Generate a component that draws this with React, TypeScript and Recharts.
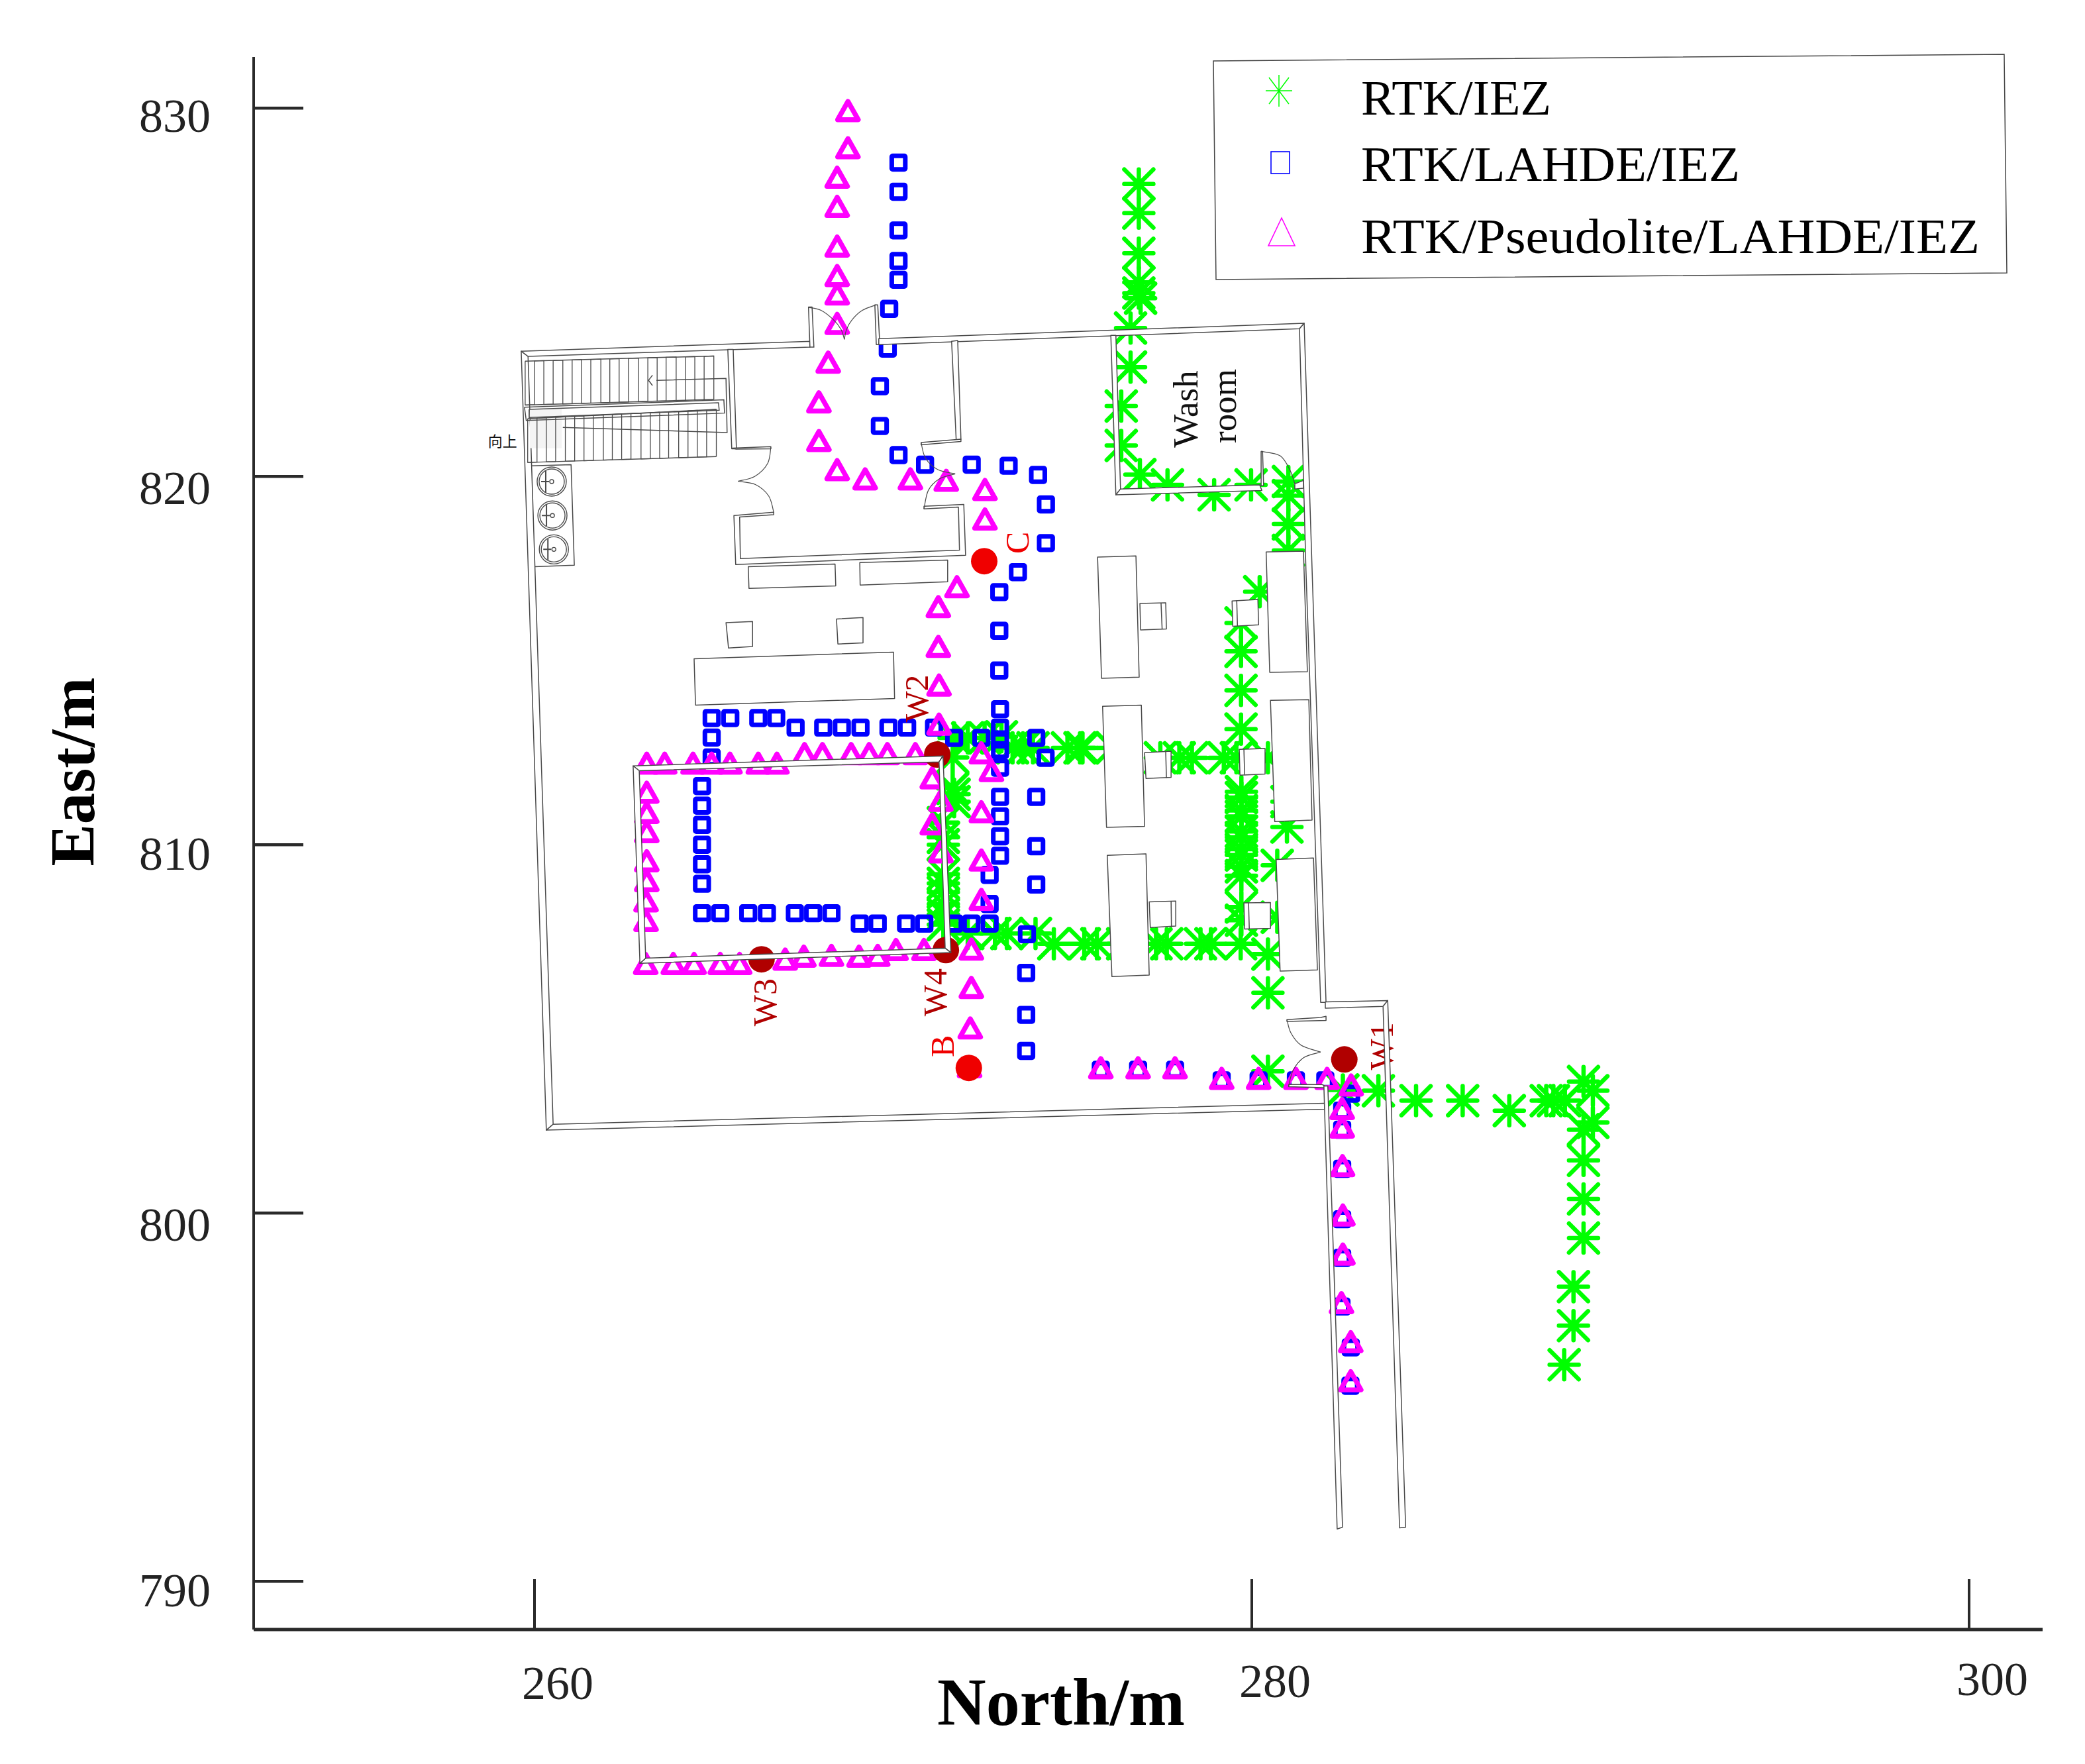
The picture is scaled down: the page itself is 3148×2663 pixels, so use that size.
import React from 'react';
import { ScatterChart, Scatter, XAxis, YAxis, Legend, Label } from 'recharts';

type P = number[];
const serif = '"Liberation Serif", "Times New Roman", serif';
const GREEN = '#00ff00', BLUE = '#0000ff', MAGENTA = '#ff00ff', WALL = '#4a4a4a';

const xTicks = [260, 280, 300];
const yTicks = [790, 800, 810, 820, 830];
const yLabelDrop: Record<number, number> = { 790: 38, 800: 42, 810: 38, 820: 42, 830: 36 };
const seriesNames = ['RTK/IEZ', 'RTK/LAHDE/IEZ', 'RTK/Pseudolite/LAHDE/IEZ'];

const rtkIez: P[] = [
  [276.85,827.94],[276.85,827.15],[276.85,826.06],[276.85,825.27],[276.85,824.98],[276.9,824.84],[276.62,824.03],[276.62,822.97],
  [276.36,821.91],[276.36,820.84],[276.88,820.05],[277.65,819.77],[278.95,819.5],[279.98,819.77],[281.02,819.86],[281.02,819.48],
  [281.02,818.71],[281.02,817.99],[280.22,816.87],[279.7,816.02],[279.7,815.25],[279.7,814.19],[279.7,813.14],
  [279.71,811.44],[279.71,811.28],[279.71,810.93],[279.71,810.77],[279.71,810.36],[279.71,810.2],[279.71,809.88],[279.71,809.72],
  [279.71,809.4],[279.71,809.16],[279.71,808.31],[279.71,807.95],
  [277.45,812.36],[277.98,812.36],[278.33,812.36],[279.22,812.36],[279.57,812.36],[280.45,812.36],
  [273.33,812.63],[273.62,812.63],[273.9,812.63],[274.86,812.63],[275.21,812.63],[275.28,812.63],[276.1,812.63],
  [271.7,812.9],[272.08,812.9],[272.55,812.9],[273.02,812.93],
  [271.66,812.37],[271.66,811.53],[271.7,811.37],[271.7,811.17],
  [271.4,810.6],[271.4,810.2],[271.4,810.0],[271.4,809.2],[271.4,808.95],[271.4,808.71],[271.4,808.39],[271.4,808.11],[271.4,807.83],
  [272.08,807.59],[272.84,807.59],[273.17,807.59],[273.97,807.59],
  [274.48,807.31],[275.33,807.31],[275.68,807.31],[276.4,807.31],[277.33,807.31],[277.63,807.31],[278.57,807.31],[278.86,807.31],[279.69,807.31],
  [280.45,807.03],[280.45,805.98],[280.98,810.48],[280.71,809.44],[280.98,811.17],[280.71,808.03],
  [280.45,803.85],[282.54,803.34],[283.53,803.32],[284.58,803.05],[285.88,803.05],[287.18,802.78],[288.21,803.05],[288.41,803.05],[288.73,803.05],
  [289.25,803.57],[289.51,803.32],[289.51,802.46],[289.25,802.26],[289.25,801.43],[289.25,800.38],[289.25,799.32],[288.97,798.0],[288.97,796.94],[288.71,795.88],
];

const rtkLahde: P[] = [
  [270.15,828.52],[270.15,827.73],[270.15,826.68],[270.15,825.85],[270.15,825.34],[269.89,824.55],[269.85,823.47],[269.63,822.45],[269.63,821.37],
  [270.15,820.58],[270.89,820.32],[272.19,820.32],[273.22,820.29],[274.04,820.04],[274.26,819.24],[274.26,818.19],[273.48,817.4],[272.96,816.86],[272.96,815.81],
  [272.96,814.73],
  [264.94,813.44],[265.46,813.44],[266.24,813.44],[266.74,813.44],
  [267.28,813.18],[268.05,813.18],[268.57,813.18],[269.09,813.18],[269.87,813.18],[270.39,813.18],[271.14,813.18],
  [264.94,812.91],[264.94,812.37],
  [264.67,811.59],[264.67,811.06],[264.67,810.54],[264.67,810.0],[264.67,809.47],[264.67,808.94],
  [264.67,808.14],[265.18,808.14],[265.96,808.14],[266.48,808.14],[267.26,808.14],[267.77,808.14],[268.28,808.14],
  [269.07,807.86],[269.57,807.86],[270.36,807.86],[270.87,807.86],[271.7,807.86],[272.18,807.86],[272.69,807.86],
  [272.98,813.68],[272.98,813.18],[272.98,812.86],[272.98,812.57],[272.98,812.09],[272.98,811.3],[272.98,810.77],[272.98,810.23],[272.98,809.7],
  [271.7,812.9],[272.46,812.9],[273.99,812.9],[274.25,812.36],[273.99,811.3],[273.99,809.96],[273.99,808.92],
  [272.69,809.18],[272.69,808.39],[273.73,807.57],[273.71,806.52],[273.71,805.38],[273.71,804.4],
  [275.79,803.89],[276.83,803.89],[277.86,803.89],[279.16,803.6],[280.19,803.6],[281.23,803.6],[282.05,803.6],
  [282.77,803.24],[282.52,802.78],[282.52,802.26],[282.52,801.2],[282.52,799.83],[282.52,798.78],[282.5,797.46],[282.76,796.35],[282.75,795.31],
];

const rtkPseudolite: P[] = [
  [268.74,829.93],[268.74,828.92],[268.44,828.12],[268.44,827.33],[268.44,826.25],[268.44,825.45],[268.44,824.95],[268.44,824.15],
  [268.19,823.1],[267.93,822.02],[267.93,820.97],[268.44,820.18],[269.22,819.93],[270.48,819.93],[271.48,819.89],[272.56,819.64],[272.56,818.84],
  [271.78,817.0],[271.26,816.46],[271.26,815.38],[271.28,814.33],[271.28,813.27],
  [272.46,812.49],[272.74,812.01],[271.09,811.81],[272.46,810.89],[271.33,811.2],[271.09,810.56],[272.46,809.58],[271.33,809.8],[272.46,808.51],
  [272.18,807.16],[272.18,806.12],[272.15,805.02],[272.13,803.97],
  [263.13,812.21],[263.63,812.21],[264.42,812.21],[264.94,812.21],[265.45,812.21],[266.24,812.21],[266.76,812.21],
  [267.53,812.47],[268.03,812.47],[268.83,812.47],[269.33,812.47],[269.84,812.47],[270.62,812.47],
  [263.13,811.42],[263.13,810.87],[263.13,810.35],[263.13,809.56],[263.13,809.02],[263.11,808.47],[263.11,807.94],
  [263.1,806.77],[263.87,806.77],[264.45,806.77],[265.18,806.77],[265.72,806.77],[266.99,806.89],[267.51,806.97],[268.28,806.99],[269.05,806.97],[269.57,806.99],[270.08,807.15],[270.86,807.15],
  [275.79,803.94],[276.83,803.94],[277.86,803.94],[279.16,803.65],[280.19,803.65],[281.23,803.65],[282.1,803.65],
  [282.77,803.47],[282.52,802.83],[282.52,802.33],[282.53,801.28],[282.54,799.94],[282.54,798.88],[282.5,797.56],[282.76,796.5],[282.76,795.44],
];

const waypoints = [
  { x: 272.54, y: 817.7, color: '#f00000' },
  { x: 272.11, y: 803.94, color: '#f00000' },
  { x: 282.58, y: 804.17, color: '#b00000' },
  { x: 271.23, y: 812.45, color: '#b00000' },
  { x: 266.33, y: 806.89, color: '#b00000' },
  { x: 271.47, y: 807.14, color: '#b00000' },
];

const waypointLabels = [
  { x: 270.66, y: 813.97, text: 'W2', color: '#b00000', size: 50 },
  { x: 266.43, y: 805.72, text: 'W3', color: '#b00000', size: 50 },
  { x: 271.17, y: 805.99, text: 'W4', color: '#b00000', size: 50 },
  { x: 283.62, y: 804.53, text: 'W1', color: '#b00000', size: 50 },
  { x: 271.38, y: 804.53, text: 'B', color: '#f00000', size: 50 },
  { x: 273.46, y: 818.2, text: 'C', color: '#f00000', size: 50 },
];

const planLabels = [
  { x: 278.16, y: 821.83, text: 'Wash', color: '#111111', rotate: -90, size: 53, family: serif },
  { x: 279.22, y: 821.91, text: 'room', color: '#111111', rotate: -90, size: 53, family: serif },
  { x: 259.11, y: 821.0, text: '向上', color: '#111111', rotate: 0, size: 22, family: '"Noto Sans CJK SC"' },
];

// Floor plan, in the same North/East metres as the tracks.
const walls: P[][] = [
  [[259.63,823.4],[259.82,823.26],[260.52,802.41],[260.33,802.25]],
  [[260.33,802.25],[260.52,802.41],[282.03,802.98],[282.03,802.82]],
  [[259.63,823.4],[267.72,823.67],[267.68,823.51],[259.82,823.26]],
  [[267.64,824.6],[267.74,824.6],[267.79,823.51],[267.68,823.51]],
  [[269.49,824.66],[269.57,824.66],[269.62,823.74],[269.6,823.58],[269.53,823.58]],
  [[269.6,823.74],[281.46,824.16],[281.33,824.01],[269.6,823.58]],
  [[281.46,824.16],[282.07,805.72],[281.92,805.72],[281.6,814.95],[281.51,817.46],[281.33,824.01]],
  [[276.07,823.83],[276.21,823.83],[276.34,819.66],[276.21,819.5]],
  [[276.21,819.5],[276.34,819.66],[280.22,819.77],[280.28,819.62]],
  [[280.26,820.68],[280.3,820.68],[280.33,819.75],[280.26,819.75]],
  [[281.2,819.8],[281.44,819.89],[281.44,819.68],[281.2,819.66]],
  [[265.39,823.45],[265.54,823.45],[265.63,820.75],[265.5,820.75]],
  [[265.52,820.77],[266.59,820.81],[266.59,820.75],[265.63,820.74]],
  [[271.63,823.67],[271.8,823.69],[271.89,821.01],[271.76,820.95]],
  [[270.78,820.92],[271.89,821.01],[271.89,820.95],[270.78,820.86]],
  [[265.56,818.94],[266.67,819.03],[266.67,818.96],[265.72,818.9],[265.74,817.77],[271.85,818.0],[271.82,819.17],[270.86,819.12],[270.86,819.19],[271.97,819.24],[272.02,817.86],[265.61,817.61]],
  [[280.98,805.25],[281.92,805.31],[282.07,805.34],[282.07,805.23],[280.98,805.2]],
  [[281.03,803.49],[281.96,803.49],[282.12,803.4],[281.03,803.43]],
  [[282.05,805.73],[283.79,805.77],[283.66,805.61],[282.05,805.56]],
  [[283.79,805.77],[284.29,791.47],[284.12,791.45],[283.66,805.61]],
  [[282.01,803.45],[282.12,803.45],[282.53,791.47],[282.38,791.42]],
  [[262.75,812.14],[271.39,812.41],[271.28,812.25],[262.92,812.01]],
  [[271.39,812.41],[271.61,807.07],[271.45,807.19],[271.28,812.25]],
  [[271.61,807.07],[262.94,806.78],[263.1,806.92],[271.45,807.19]],
  [[262.94,806.78],[262.75,812.14],[262.92,812.01],[263.1,806.92]],
];

const furniture: P[][] = [
  [[275.7,817.81],[276.77,817.84],[276.86,814.55],[275.81,814.52]],
  [[275.84,813.76],[276.92,813.79],[277.01,810.5],[275.95,810.47]],
  [[275.97,809.71],[277.05,809.75],[277.14,806.46],[276.1,806.42]],
  [[280.4,817.95],[281.44,817.97],[281.55,814.7],[280.5,814.68]],
  [[280.52,813.92],[281.59,813.94],[281.68,810.67],[280.64,810.63]],
  [[280.68,809.6],[281.72,809.64],[281.83,806.6],[280.79,806.57]],
  [[276.88,816.55],[277.6,816.57],[277.62,815.86],[276.9,815.83]],
  [[279.45,816.62],[280.17,816.66],[280.19,815.97],[279.47,815.93]],
  [[277.01,812.5],[277.75,812.54],[277.75,811.83],[277.05,811.8]],
  [[279.65,812.59],[280.37,812.61],[280.37,811.92],[279.67,811.89]],
  [[277.14,808.45],[277.88,808.47],[277.88,807.79],[277.17,807.75]],
  [[279.78,808.42],[280.52,808.43],[280.52,807.73],[279.8,807.71]],
  [[264.45,815.05],[270.01,815.23],[270.04,813.97],[264.49,813.79]],
  [[265.34,816.03],[266.08,816.06],[266.08,815.38],[265.41,815.34]],
  [[268.42,816.13],[269.16,816.17],[269.16,815.48],[268.46,815.45]],
  [[265.96,817.55],[268.38,817.62],[268.4,817.03],[265.98,816.96]],
  [[269.07,817.66],[271.52,817.73],[271.52,817.14],[269.08,817.05]],
  [[259.91,820.29],[261.02,820.32],[261.11,817.59],[260.0,817.55]],
];

const patches: P[][] = [
  [[259.87,821.82],[260.76,821.85],[260.76,821.6],[259.87,821.57]],
  [[259.87,821.53],[260.76,821.53],[260.76,820.77],[259.87,820.77]],
];

const stairLines: P[][] = [
  [[259.74,823.13],[265.0,823.27]],[[259.74,821.94],[265.0,822.09]],
  [[259.81,821.57],[265.07,821.82]],[[259.81,820.38],[265.07,820.54]],
  [[259.72,821.88],[265.28,822.08],[265.3,821.72],[259.77,821.52],[259.72,821.88]],
  [[259.85,821.82],[265.13,822.0],[265.15,821.8],[259.85,821.6],[259.85,821.82]],
  [[263.4,822.61],[265.34,822.66],[265.37,821.19],[260.79,821.33]],
  [[263.29,822.75],[263.18,822.61],[263.29,822.47]],
  [[277.47,816.55],[277.5,815.85]],[[279.58,816.64],[279.6,815.94]],[[277.6,812.53],[277.62,811.81]],
  [[279.78,812.6],[279.8,811.9]],[[277.75,808.46],[277.76,807.76]],[[279.91,808.42],[279.93,807.72]],
];

const upperStepX = [259.74,260.0,260.26,260.52,260.79,261.05,261.31,261.57,261.85,262.1,262.36,262.62,262.9,263.16,263.42,263.67,263.95,264.21,264.47,264.73,265.0];
const lowerStepX = [259.81,260.07,260.33,260.59,260.86,261.12,261.38,261.64,261.92,262.17,262.43,262.69,262.97,263.23,263.49,263.74,264.02,264.28,264.54,264.8,265.07];

const doors: P[][] = [
  [[280.26,820.68],[280.79,820.56],[281.07,820.16],[281.2,819.8]],
  [[266.67,819.03],[266.53,819.47],[266.16,819.78],[265.67,819.87]],
  [[266.59,820.79],[266.5,820.35],[266.14,820.0],[265.67,819.87]],
  [[270.78,820.92],[270.9,820.5],[271.24,820.19],[271.73,820.07]],
  [[270.86,819.12],[270.98,819.62],[271.28,819.93],[271.73,820.07]],
  [[267.64,824.59],[267.99,824.51],[268.33,824.26],[268.55,823.99],[268.64,823.72]],
  [[269.53,824.66],[269.14,824.51],[268.86,824.26],[268.7,823.99],[268.64,823.72]],
  [[280.98,805.25],[281.09,804.89],[281.37,804.56],[281.92,804.37]],
  [[281.03,803.45],[281.15,803.87],[281.45,804.22],[281.92,804.37]],
];

const sinks: P[] = [[260.48,819.86],[260.5,818.94],[260.54,818.02]];

const toPoints = (list: P[]) => list.map(([x, y]) => ({ x, y }));
const zigzag = (xs: number[], top: P, bottom: P) => xs.map((x, i) => {
  const t = (x - xs[0]) / (xs[xs.length - 1] - xs[0]);
  const a = top[0] + (top[1] - top[0]) * t;
  const b = bottom[0] + (bottom[1] - bottom[0]) * t;
  return i % 2 === 0 ? [[x, a], [x, b]] : [[x, b], [x, a]];
}).flat() as P[];
const stairZigzags = [
  zigzag(upperStepX, [823.13, 823.27], [821.94, 822.09]),
  zigzag(lowerStepX, [821.57, 821.82], [820.38, 820.54]),
];

const Nothing = () => null;

const Star = ({ cx, cy }: any) => {
  const r = 22;
  return (
    <path d={`M${cx - r} ${cy}H${cx + r}M${cx} ${cy - r}V${cy + r}M${cx - r} ${cy - r}L${cx + r} ${cy + r}M${cx - r} ${cy + r}L${cx + r} ${cy - r}`}
      stroke={GREEN} strokeWidth={6.5} strokeLinecap="round" fill="none" />
  );
};
const Square = ({ cx, cy }: any) => (
  <rect x={cx - 10.2} y={cy - 10.2} width={20.4} height={20.4} rx={1.5} fill="none" stroke={BLUE} strokeWidth={7} />
);
const Triangle = ({ cx, cy }: any) => (
  <path d={`M${cx} ${cy - 14}L${cx + 15.5} ${cy + 13.5}H${cx - 15.5}Z`} fill="none" stroke={MAGENTA} strokeWidth={7.5} strokeLinejoin="round" />
);
const Dot = ({ cx, cy, payload }: any) => <circle cx={cx} cy={cy} r={20} fill={payload.color} />;
const RotatedLabel = ({ cx, cy, payload }: any) => (
  <text x={cx} y={cy} textAnchor="middle" dominantBaseline="central" fill={payload.color}
    fontFamily={payload.family ?? serif} fontSize={payload.size ?? 46}
    transform={`rotate(${payload.rotate ?? -90} ${cx} ${cy})`}>{payload.text}</text>
);
const Sink = ({ cx, cy }: any) => (
  <g fill="none" stroke={WALL} strokeWidth={1.4}>
    <circle cx={cx} cy={cy} r={22} /><circle cx={cx} cy={cy} r={19} />
    <path d={`M${cx - 9} ${cy - 16}V${cy + 16}M${cx - 16} ${cy}H${cx - 4}`} strokeWidth={2} />
    <circle cx={cx} cy={cy} r={3} />
  </g>
);

const shape = (fill: string, stroke: string, closed = true, strokeWidth = 1.5) => (p: any) => {
  const pts = (p.points ?? []).map((q: any) => `${q.x},${q.y}`).join(' ');
  return closed
    ? <polygon points={pts} fill={fill} stroke={stroke} strokeWidth={strokeWidth} strokeLinejoin="round" />
    : <polyline points={pts} fill="none" stroke={stroke} strokeWidth={strokeWidth} />;
};

// Door swings are arcs: a Catmull-Rom path through the scaled points.
const arcLine = (p: any) => {
  const q = p.points ?? [];
  let d = q.length ? `M${q[0].x} ${q[0].y}` : '';
  for (let i = 0; i < q.length - 1; i += 1) {
    const a = q[Math.max(i - 1, 0)], b = q[i], c = q[i + 1], e = q[Math.min(i + 2, q.length - 1)];
    d += `C${b.x + (c.x - a.x) / 6} ${b.y + (c.y - a.y) / 6} ${c.x - (e.x - b.x) / 6} ${c.y - (e.y - b.y) / 6} ${c.x} ${c.y}`;
  }
  return <path d={d} fill="none" stroke={WALL} strokeWidth={1.2} />;
};

const Plan = (key: string, list: P[], fill: string, stroke: string, closed = true, sw = 1.5) => (
  <Scatter key={key} data={toPoints(list)} shape={Nothing} line={shape(fill, stroke, closed, sw)}
    legendType="none" isAnimationActive={false} />
);

const XTick = ({ x, y, payload }: any) => (
  <g>
    <line x1={x} y1={y} x2={x} y2={y - 76} stroke="#2a2a2a" strokeWidth={4} />
    <text x={x + 35} y={y + 105 - (payload.value - 260) * 0.15} textAnchor="middle" fontFamily={serif} fontSize={72} fill="#222">{payload.value}</text>
  </g>
);
const YTick = ({ x, y, payload }: any) => (
  <g>
    <line x1={x} y1={y} x2={x + 75} y2={y} stroke="#2a2a2a" strokeWidth={4.5} />
    <text x={264} y={y + (yLabelDrop[payload.value] ?? 38)} textAnchor="middle" fontFamily={serif} fontSize={72} fill="#222">{payload.value}</text>
  </g>
);

const legendMarks = [
  { cx: 99, cy: 50 },
  { cx: 101, cy: 158 },
  { cx: 103, cy: 263 },
];
const legendBase = [86, 186, 295];
const legendLen = [287, 572, 934];

const LegendBox = ({ payload }: any) => {
  const items = (payload ?? []).filter((it: any) => seriesNames.includes(it.value));
  return (
    <svg width={1210} height={345} style={{ display: 'block', overflow: 'visible' }}>
      <polygon points="0,5 1194,-5 1198,325 4,335" fill="#fff" stroke="#444" strokeWidth={1.5} />
      {items.map((it: any) => {
        const i = seriesNames.indexOf(it.value);
        const m = legendMarks[i];
        return (
          <g key={it.value}>
            {i === 0 && <path d={`M${m.cx - 20} ${m.cy}H${m.cx + 20}M${m.cx} ${m.cy - 24}V${m.cy + 24}M${m.cx - 15} ${m.cy - 20}L${m.cx + 15} ${m.cy + 20}M${m.cx - 15} ${m.cy + 20}L${m.cx + 15} ${m.cy - 20}`} stroke={GREEN} strokeWidth={1.5} fill="none" />}
            {i === 1 && <rect x={m.cx - 14} y={m.cy - 16} width={28} height={33} fill="none" stroke={BLUE} strokeWidth={1.6} />}
            {i === 2 && <path d={`M${m.cx} ${m.cy - 21}L${m.cx + 20} ${m.cy + 21}H${m.cx - 20}Z`} fill="none" stroke={MAGENTA} strokeWidth={1.6} />}
            <text x={223} y={legendBase[i]} fontFamily={serif} fontSize={74} fill="#000"
              textLength={legendLen[i]} lengthAdjust="spacingAndGlyphs">{it.value}</text>
          </g>
        );
      })}
    </svg>
  );
};

export default function App() {
  return (
    <div style={{ position: 'absolute', left: 0, top: 0, width: 3148, height: 2663, background: '#fff', overflow: 'hidden' }}>
      <ScatterChart width={3148} height={2663} margin={{ top: 86, right: 64, bottom: 0, left: 0 }}>
        <XAxis type="number" dataKey="x" domain={[252.17, 302.05]} ticks={xTicks} allowDataOverflow height={203}
          tick={XTick} tickLine={false} tickSize={0} tickMargin={0} interval={0} stroke="#2a2a2a" strokeWidth={5}>
          <Label content={() => (
            <text x={1602} y={2604} textAnchor="middle" fontFamily={serif} fontWeight="bold" fontSize={102} fill="#000">North/m</text>
          )} />
        </XAxis>
        <YAxis type="number" dataKey="y" domain={[788.69, 831.39]} ticks={yTicks} allowDataOverflow width={383}
          tick={YTick} tickLine={false} tickSize={0} tickMargin={0} interval={0} stroke="#2a2a2a" strokeWidth={4}>
          <Label content={() => (
            <text x={110} y={1165} textAnchor="middle" dominantBaseline="central" fontFamily={serif} fontWeight="bold" fontSize={95} fill="#000"
              transform="rotate(-90 110 1165)">East/m</text>
          )} />
        </YAxis>
        <Legend layout="vertical" align="center" verticalAlign="middle" content={<LegendBox />}
          wrapperStyle={{ left: 1832, top: 87, width: 1210, height: 345 }} />

        <Scatter name={seriesNames[0]} data={toPoints(rtkIez)} fill={GREEN} shape={Star} isAnimationActive={false} />
        <Scatter name={seriesNames[1]} data={toPoints(rtkLahde)} fill={BLUE} shape={Square} isAnimationActive={false} />
        <Scatter name={seriesNames[2]} data={toPoints(rtkPseudolite)} fill={MAGENTA} shape={Triangle} isAnimationActive={false} />
        <Scatter data={waypoints} shape={Dot} legendType="none" isAnimationActive={false} />
        <Scatter data={waypointLabels} shape={RotatedLabel} legendType="none" isAnimationActive={false} />

        {furniture.map((f, i) => Plan(`f${i}`, f, '#ffffff', WALL))}
        {walls.map((w, i) => Plan(`w${i}`, w, '#ffffff', WALL))}
        {patches.map((w, i) => Plan(`p${i}`, w, '#f4f4f4', 'none'))}
        {stairZigzags.map((w, i) => Plan(`z${i}`, w, 'none', WALL, false, 1.3))}
        {stairLines.map((w, i) => Plan(`s${i}`, w, 'none', WALL, false, 1.5))}
        {doors.map((w, i) => (
          <Scatter key={`d${i}`} data={toPoints(w)} shape={Nothing} line={arcLine} legendType="none" isAnimationActive={false} />
        ))}
        <Scatter data={toPoints(sinks)} shape={Sink} legendType="none" isAnimationActive={false} />
        <Scatter data={planLabels} shape={RotatedLabel} legendType="none" isAnimationActive={false} />
      </ScatterChart>
    </div>
  );
}
